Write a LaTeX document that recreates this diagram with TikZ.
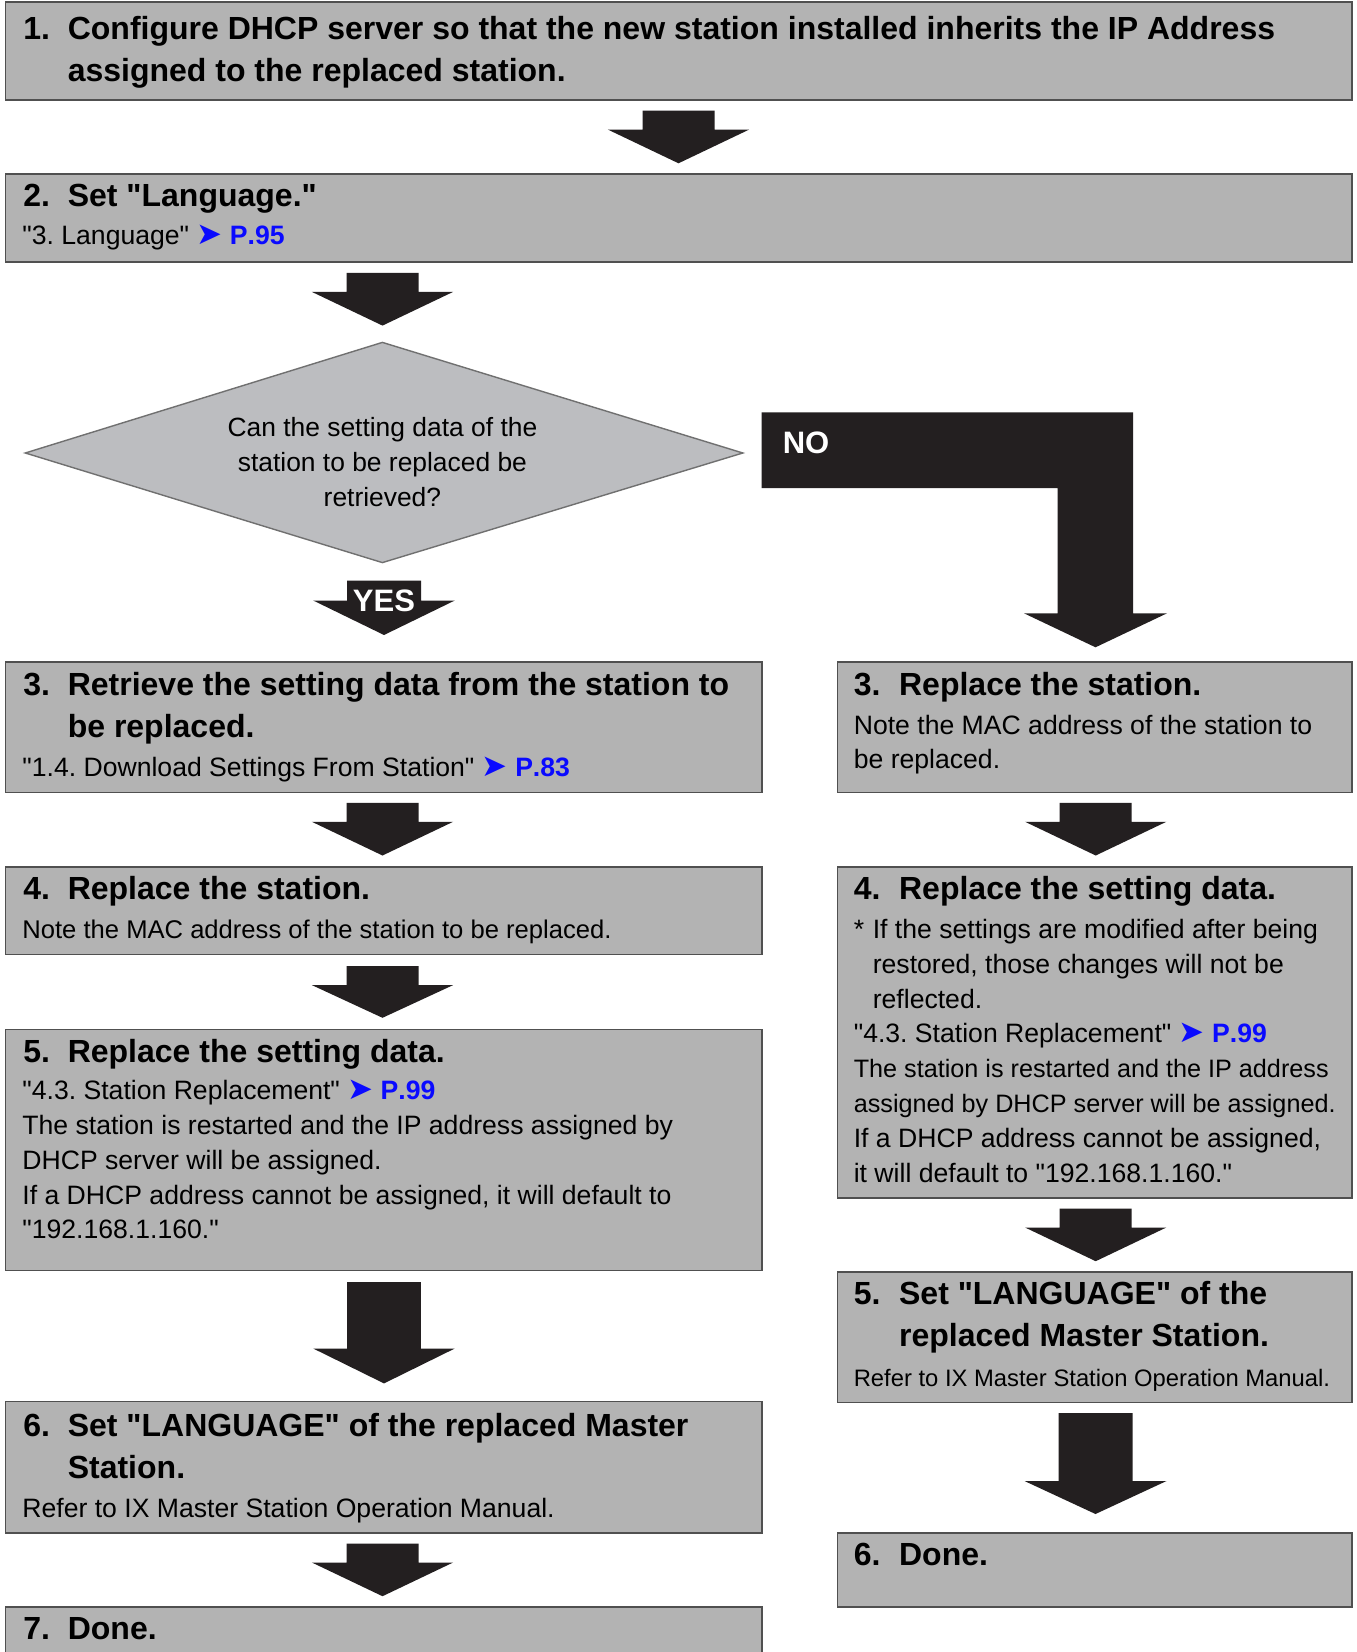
\documentclass[tikz,border=0pt]{standalone}
\usepackage{fontspec}
\setmainfont{Liberation Sans}[Ligatures=TeXOff]
\newfontfamily\dvsans{DejaVu Sans}
\usetikzlibrary{fit}
\definecolor{boxgray}{HTML}{B3B3B3}
\definecolor{boxline}{HTML}{505050}
\definecolor{diagray}{HTML}{BCBDC0}
\definecolor{dialine}{HTML}{707070}
\definecolor{arrowblack}{HTML}{231F20}
\definecolor{linkblue}{HTML}{0A0AFF}
\newcommand\lnk[1]{{\color{linkblue}{\dvsans\fontsize{15.5}{17}\selectfont\char"27A4} \textbf{\addfontfeature{Kerning=Off}#1}}}
\newcommand\barrow[6]{\fill[arrowblack] (#1-#5,#2) -- (#1+#5,#2) -- (#1+#5,#3) -- (#1+#6,#3) -- (#1,#4) -- (#1-#6,#3) -- (#1-#5,#3) -- cycle;}
\tikzset{
  box/.style={draw=boxline, fill=boxgray, line width=0.8pt, inner sep=0pt},
  head/.style={anchor=base west, inner sep=0pt, font=\bfseries\fontsize{16.0}{20}\selectfont},
  bodyL/.style={anchor=base west, inner sep=0pt, font=\fontsize{13.3}{17}\selectfont},
  bodyR/.style={anchor=base west, inner sep=0pt, font=\fontsize{13.3}{17}\selectfont},
  dtext/.style={anchor=base, inner sep=0pt, font=\fontsize{13.2}{17}\selectfont},
  wlabel/.style={inner sep=0pt, text=white, font=\bfseries\fontsize{15.5}{18}\selectfont},
}
\begin{document}
\frenchspacing
\begin{tikzpicture}[x=0.5pt,y=-0.5pt]
\useasboundingbox (0,0) rectangle (1356,1652);
\clip (0,0) rectangle (1356,1652);
\fill[white] (0,0) rectangle (1356,1652);

% ---------- boxes ----------
\node[box, fit={(5.3,2.1) (1351.8,100)}] (b1) {};
\node[box, fit={(5.3,173.8) (1351.8,262.3)}] (b2) {};
\node[box, fit={(5.3,661.7) (761.7,792.3)}] (l3) {};
\node[box, fit={(837.6,661.7) (1351.8,792.3)}] (r3) {};
\node[box, fit={(5.3,867.1) (761.7,954.6)}] (l4) {};
\node[box, fit={(837.6,867.1) (1351.8,1198)}] (r4) {};
\node[box, fit={(5.3,1029.4) (761.7,1270.6)}] (l5) {};
\node[box, fit={(837.6,1271.7) (1351.8,1402.3)}] (r5) {};
\node[box, fit={(5.3,1401.3) (761.7,1533)}] (l6) {};
\node[box, fit={(837.6,1533) (1351.8,1606.7)}] (r6) {};
\node[box, fit={(5.3,1606.7) (761.7,1690)}] (l7) {};

% ---------- diamond ----------
\coordinate (dW) at (25.3,453);
\coordinate (dN) at (382.4,342.4);
\coordinate (dE) at (742.8,453);
\coordinate (dS) at (382.4,562.6);
\draw[fill=diagray, draw=dialine, line width=0.7pt] (dW) -- (dN) -- (dE) -- (dS) -- cycle;
\node[dtext] (q1) at (382.4,437) {Can the setting data of the};
\node[dtext] (q2) at (382.4,472) {station to be replaced be};
\node[dtext] (q3) at (382.4,506.6) {retrieved?};

% ---------- block arrows ----------
\barrow{678.5}{110.6}{129.6}{163.3}{36}{70.6}
\barrow{382.5}{272.9}{291.9}{325.6}{36}{70.6}
\barrow{384}{580.5}{600.5}{635}{37}{70.8}
\node[wlabel, anchor=base] (yes) at (384,611) {YES};
\barrow{382.5}{802.8}{821.8}{855.5}{36}{70.6}
\barrow{1095.7}{802.8}{821.8}{855.5}{36}{70.6}
\barrow{382.5}{966.1}{985.1}{1017.8}{36}{70.6}
\barrow{1095.7}{1208.5}{1227.5}{1261.2}{36}{70.6}
\barrow{384}{1282.2}{1348.6}{1383.4}{36.8}{70.6}
\barrow{1095.5}{1413}{1481}{1514}{37}{71}
\barrow{382.5}{1543.5}{1562.5}{1596.2}{36}{70.6}
\fill[arrowblack] (761.5,412.5) -- (1133,412.5) -- (1133,613.3) -- (1167,613.3) -- (1095.5,647.3) -- (1024,613.3) -- (1057.5,613.3) -- (1057.5,488) -- (761.5,488) -- cycle;
\node[wlabel, anchor=base west] (no) at (782.4,453) {NO};

% ---------- texts ----------
\node[head] (b1n) at (23,40) {1.};
\node[head] (b1a) at (67.4,40) {Configure DHCP server so that the new station installed inherits the IP Address};
\node[head] (b1b) at (67.4,82) {assigned to the replaced station.};

\node[head] (b2n) at (23,206.4) {2.};
\node[head] (b2a) at (67.4,206.4) {Set "Language."};
\node[bodyL] (b2c) at (22,245) {"3. Language" \lnk{P.95}};

\node[head] (l3n) at (23,695.3) {3.};
\node[head] (l3a) at (67.4,695.3) {Retrieve the setting data from the station to};
\node[head] (l3b) at (67.4,737.4) {be replaced.};
\node[bodyL] (l3c) at (22,776.3) {"1.4. Download Settings From Station" \lnk{P.83}};

\node[head] (r3n) at (853.4,695.3) {3.};
\node[head] (r3a) at (898.7,695.3) {Replace the station.};
\node[bodyR] (r3c) at (853.4,734.2) {Note the MAC address of the station to};
\node[bodyR] (r3d) at (853.4,768.9) {be replaced.};

\node[head] (l4n) at (23,899.7) {4.};
\node[head] (l4a) at (67.4,899.7) {Replace the station.};
\node[bodyL, font=\fontsize{12.8}{17}\selectfont] (l4c) at (22,938.6) {Note the MAC address of the station to be replaced.};

\node[head] (r4n) at (853.4,899.7) {4.};
\node[head] (r4a) at (898.7,899.7) {Replace the setting data.};
\node[bodyR] (r4s) at (853.4,938.6) {*};
\node[bodyR] (r4c) at (872.4,938.6) {If the settings are modified after being};
\node[bodyR] (r4d) at (872.4,973.3) {restored, those changes will not be};
\node[bodyR] (r4e) at (872.4,1008.1) {reflected.};
\node[bodyR] (r4f) at (853.4,1042.9) {"4.3. Station Replacement" \lnk{P.99}};
\node[bodyR, font=\fontsize{12.6}{17}\selectfont] (r4g) at (853.4,1077.6) {The station is restarted and the IP address};
\node[bodyR, font=\fontsize{12.6}{17}\selectfont] (r4h) at (853.4,1112.4) {assigned by DHCP server will be assigned.};
\node[bodyR] (r4i) at (853.4,1147.2) {If a DHCP address cannot be assigned,};
\node[bodyR] (r4j) at (853.4,1182) {it will default to "192.168.1.160."};

\node[head] (l5n) at (23,1062) {5.};
\node[head] (l5a) at (67.4,1062) {Replace the setting data.};
\node[bodyL] (l5c) at (22,1099.8) {"4.3. Station Replacement" \lnk{P.99}};
\node[bodyL] (l5d) at (22,1134.5) {The station is restarted and the IP address assigned by};
\node[bodyL] (l5e) at (22,1169.3) {DHCP server will be assigned.};
\node[bodyL] (l5f) at (22,1204.1) {If a DHCP address cannot be assigned, it will default to};
\node[bodyL] (l5g) at (22,1238.8) {"192.168.1.160."};

\node[head] (r5n) at (853.4,1304.3) {5.};
\node[head] (r5a) at (898.7,1304.3) {Set "LANGUAGE" of the};
\node[head] (r5b) at (898.7,1346.4) {replaced Master Station.};
\node[bodyR, font=\fontsize{11.9}{15}\selectfont] (r5c) at (853.4,1386.3) {Refer to IX Master Station Operation Manual.};

\node[head] (l6n) at (23,1436) {6.};
\node[head] (l6a) at (67.4,1436) {Set "LANGUAGE" of the replaced Master};
\node[head] (l6b) at (67.4,1478.1) {Station.};
\node[bodyL] (l6c) at (22,1517) {Refer to IX Master Station Operation Manual.};

\node[head] (r6n) at (853.4,1565.5) {6.};
\node[head] (r6a) at (898.7,1565.5) {Done.};

\node[head] (l7n) at (23,1639.3) {7.};
\node[head] (l7a) at (67.4,1639.3) {Done.};
\end{tikzpicture}
\end{document}
